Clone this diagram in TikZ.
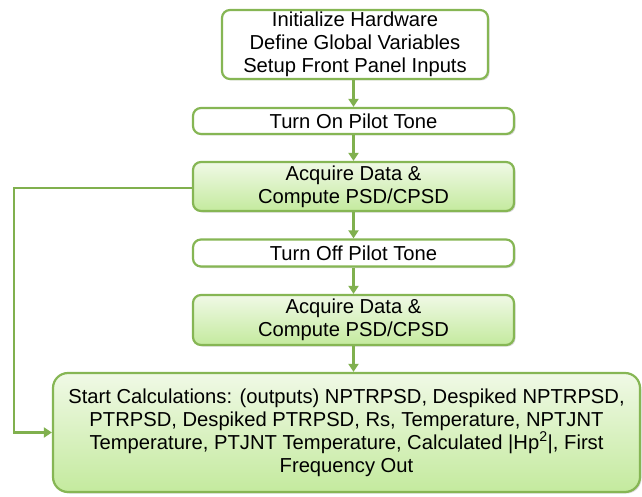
\documentclass[tikz,border=0pt]{standalone}
\usepackage{fontspec}
\setmainfont{Liberation Sans}
\usetikzlibrary{arrows.meta,shadows}
\definecolor{edgegreen}{RGB}{134,182,84}
\definecolor{arrowgreen}{RGB}{128,176,78}
\definecolor{filltop}{RGB}{240,249,230}
\definecolor{fillbot}{RGB}{196,234,158}
\tikzset{
  procbox/.style={draw=edgegreen, line width=2.2pt, rounded corners=8pt,
    fill=white, align=center, inner sep=0pt,
    font=\fontsize{20.2}{23}\selectfont,
    drop shadow={shadow xshift=1.5pt, shadow yshift=-1.5pt, opacity=0.25, fill=black!60}},
  greenbox/.style={procbox, top color=filltop, bottom color=fillbot},
  flow/.style={draw=arrowgreen, line width=2.6pt,
    -{Triangle[length=8pt,width=10pt]}},
}
\begin{document}
\begin{tikzpicture}[x=1pt,y=-1pt]
\useasboundingbox (0,0) rectangle (642,497);
\node[procbox, minimum width=266pt, minimum height=69pt] (init) at (355,44.5)
  {Initialize Hardware\\Define Global Variables\\Setup Front Panel Inputs};
\node[procbox, minimum width=321pt, minimum height=26pt] (pon) at (353.5,121)
  {Turn On Pilot Tone};
\node[greenbox, minimum width=321pt, minimum height=49pt] (acq1) at (353.5,186.5)
  {Acquire Data \&\\Compute PSD/CPSD};
\node[procbox, minimum width=321pt, minimum height=27pt] (poff) at (353.5,253)
  {Turn Off Pilot Tone};
\node[greenbox, minimum width=321pt, minimum height=50pt] (acq2) at (353.5,320)
  {Acquire Data \&\\Compute PSD/CPSD};
\node[greenbox, rounded corners=15pt, minimum width=587pt, minimum height=119pt] (calc) at (346.5,432.5)
  {Start Calculations: (outputs) NPTRPSD, Despiked NPTRPSD,\\
   PTRPSD, Despiked PTRPSD, Rs, Temperature, NPTJNT\\
   Temperature, PTJNT Temperature, Calculated |Hp\textsuperscript{2}|, First\\
   Frequency Out};
\coordinate (loopcorner) at (14,188);
\draw[flow] (init.south -| pon.north) -- (pon.north);
\draw[flow] (pon.south) -- (acq1.north);
\draw[flow] (acq1.south) -- (poff.north);
\draw[flow] (poff.south) -- (acq2.north);
\draw[flow] (acq2.south) -- (calc.north -| acq2.south);
\draw[flow] (acq1.west |- loopcorner) -- (loopcorner) |- (calc.west);
\end{tikzpicture}
\end{document}
